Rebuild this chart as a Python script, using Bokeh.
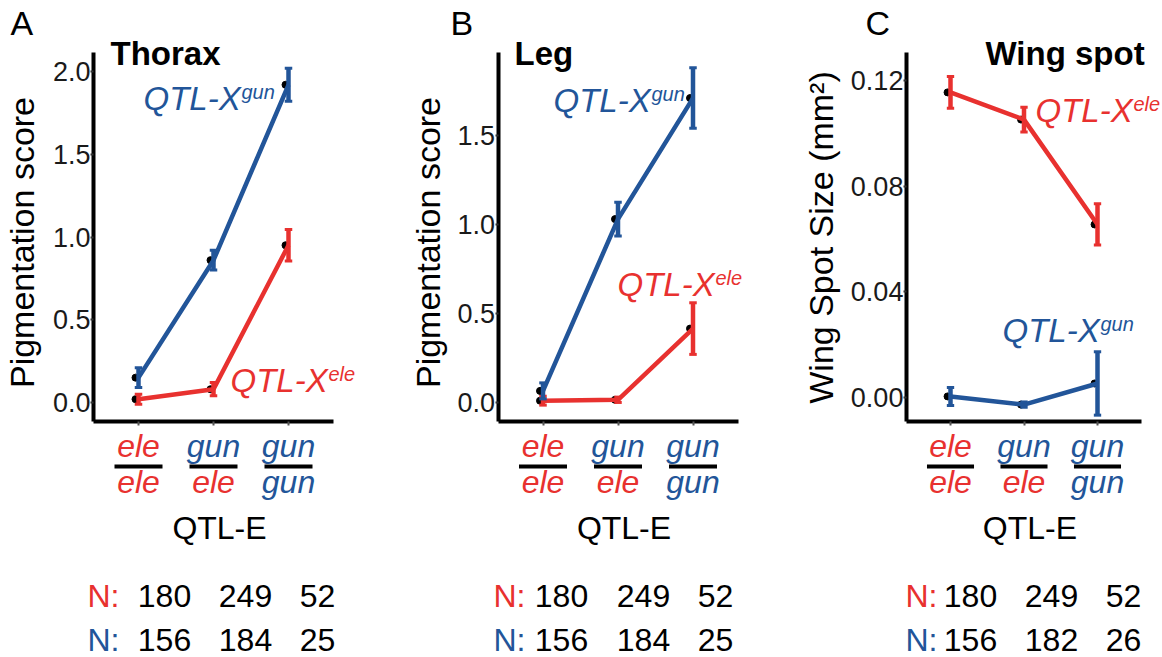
import numpy as np
from bokeh.plotting import figure
from bokeh.layouts import row
from bokeh.models import Range1d, LinearAxis, FixedTicker, NumeralTickFormatter
from bokeh.core.properties import value
from bokeh.transform import dodge
from bokeh.embed import file_html
from bokeh.resources import INLINE

RED = "#E8312F"
BLUE = "#225599"
FONT = "Liberation Sans"

# ---------------- data ----------------
xpos = [1, 2, 3]
genotype_top = ["ele", "gun", "gun"]
genotype_bottom = ["ele", "ele", "gun"]

# Panel A : Thorax
thorax_gun_mean = [0.15, 0.86, 1.92]
thorax_gun_err = [0.06, 0.06, 0.10]
thorax_ele_mean = [0.02, 0.08, 0.95]
thorax_ele_err = [0.03, 0.04, 0.095]
thorax_n_ele = [180, 249, 52]
thorax_n_gun = [156, 184, 25]

# Panel B : Leg
leg_gun_mean = [0.065, 1.03, 1.71]
leg_gun_err = [0.045, 0.095, 0.17]
leg_ele_mean = [0.01, 0.015, 0.415]
leg_ele_err = [0.025, 0.015, 0.145]
leg_n_ele = [180, 249, 52]
leg_n_gun = [156, 184, 25]

# Panel C : Wing spot
wing_ele_mean = [0.1155, 0.1052, 0.0655]
wing_ele_err = [0.006, 0.0047, 0.0078]
wing_gun_mean = [0.0004, -0.0027, 0.0053]
wing_gun_err = [0.0034, 0.0010, 0.012]
wing_n_ele = [180, 249, 52]
wing_n_gun = [156, 182, 26]

# ---------------- layout constants (page pixels) ----------------
PAGE_TOP = 0
FIG_H = 657
PANEL_TOP = 52
PANEL_BOT = 421
K = 0.39  # baseline compensation (fraction of font size)

panels = [
    dict(letter="A", title="Thorax", x0=0, w=400, cat1=138.0, sp=75.0,
         vmin=-0.115, vmax=2.115, ticks=[0, 0.5, 1.0, 1.5, 2.0], fmt="0.0",
         ylabel="Pigmentation score", ylab_x=35, ylab_y=242,
         letter_x=10, title_x=110,
         gun=(thorax_gun_mean, thorax_gun_err), ele=(thorax_ele_mean, thorax_ele_err),
         gun_lab=(143, 111), ele_lab=(230, 393),
         n_ele=thorax_n_ele, n_gun=thorax_n_gun, n_x=87, n_cols=[164, 245, 317]),
    dict(letter="B", title="Leg", x0=400, w=390, cat1=542.5, sp=75.0,
         vmin=-0.107, vmax=1.966, ticks=[0, 0.5, 1.0, 1.5], fmt="0.0",
         ylabel="Pigmentation score", ylab_x=441, ylab_y=242,
         letter_x=450, title_x=514,
         gun=(leg_gun_mean, leg_gun_err), ele=(leg_ele_mean, leg_ele_err),
         gun_lab=(553, 113), ele_lab=(617, 297),
         n_ele=leg_n_ele, n_gun=leg_n_gun, n_x=493, n_cols=[561, 643, 715]),
    dict(letter="C", title="Wing spot", x0=790, w=372, cat1=950.0, sp=73.5,
         vmin=-0.0091, vmax=0.1306, ticks=[0, 0.04, 0.08, 0.12], fmt="0.00",
         ylabel="Wing Spot Size (mm²)", ylab_x=834, ylab_y=237,
         letter_x=865, title_x=985,
         gun=(wing_gun_mean, wing_gun_err), ele=(wing_ele_mean, wing_ele_err),
         gun_lab=(1002, 343), ele_lab=(1035, 123),
         n_ele=wing_n_ele, n_gun=wing_n_gun, n_x=905, n_cols=[970, 1051, 1123]),
]


def make_panel(c):
    x0, w = c["x0"], c["w"]
    sp, cat1 = c["sp"], c["cat1"]
    xs = Range1d(1 - (cat1 - x0) / sp, 1 + (x0 + w - cat1) / sp)
    s = (PANEL_BOT - PANEL_TOP) / (c["vmax"] - c["vmin"])
    ys = Range1d(c["vmin"] - (PAGE_TOP + FIG_H - PANEL_BOT) / s,
                 c["vmax"] + (PANEL_TOP - PAGE_TOP) / s)
    p = figure(width=w, height=FIG_H, x_range=xs, y_range=ys,
               x_axis_type=None, y_axis_type=None,
               toolbar_location=None, output_backend="svg",
               min_border=0, outline_line_color=None,
               background_fill_color="white", border_fill_color="white")
    p.extra_x_ranges = {"px": Range1d(x0, x0 + w)}
    p.extra_y_ranges = {"px": Range1d(PAGE_TOP + FIG_H, PAGE_TOP)}
    p.xgrid.visible = False
    p.ygrid.visible = False

    # axes
    yax = LinearAxis(fixed_location=0.4, bounds=(c["vmin"], c["vmax"]),
                     ticker=FixedTicker(ticks=c["ticks"], minor_ticks=[]),
                     formatter=NumeralTickFormatter(format=c["fmt"]),
                     axis_line_width=4, axis_line_color="black",
                     major_tick_out=3, major_tick_in=0, minor_tick_out=0, minor_tick_in=0,
                     major_tick_line_width=2, major_tick_line_color="#333333",
                     major_label_standoff=0,
                     major_label_text_font=FONT, major_label_text_font_size="27px",
                     major_label_text_color="#1a1a1a")
    p.add_layout(yax, "left")
    xax = LinearAxis(fixed_location=c["vmin"], bounds=(0.4, 3.6),
                     ticker=FixedTicker(ticks=xpos, minor_ticks=[]),
                     major_label_overrides={1: "", 2: "", 3: ""},
                     axis_line_width=4, axis_line_color="black",
                     major_tick_out=4, major_tick_in=0, minor_tick_out=0, minor_tick_in=0,
                     major_tick_line_width=2, major_tick_line_color="#555555",
                     major_label_text_font_size="1px")
    p.add_layout(xax, "below")

    # data
    for (mean, err), col in ((c["ele"], RED), (c["gun"], BLUE)):
        mean = np.array(mean)
        err = np.array(err)
        lo, hi = mean - err, mean + err
        xa = np.array(xpos, dtype=float)
        p.scatter(x=dodge("x", -0.04), y="y", source=dict(x=xa, y=mean),
                  size=7, color="black")
        p.line(xa, mean, line_color=col, line_width=4.5)
        p.segment(x0=xa, y0=lo, x1=xa, y1=hi, line_color=col, line_width=4.5)
        p.segment(x0=xa - 0.05, y0=lo, x1=xa + 0.05, y1=lo, line_color=col, line_width=3)
        p.segment(x0=xa - 0.05, y0=hi, x1=xa + 0.05, y1=hi, line_color=col, line_width=3)

    # texts in page-pixel coordinates (y = wanted baseline)
    def ptext(x, y, t, size, color="black", style="normal", align="left", angle=0.0,
              xr="px"):
        fs = float(size.replace("px", ""))
        kw = dict(y_range_name="px")
        if xr == "px":
            kw["x_range_name"] = "px"
        if angle == 0.0:
            y = y - K * fs
        else:
            x = x - K * fs
        p.text(x=[x], y=[y], text=[t], text_font=value(FONT), text_font_size=size,
               text_color=color, text_font_style=style, text_align=align,
               text_baseline="alphabetic", angle=angle, **kw)

    ptext(c["letter_x"], 36, c["letter"], "34px")
    ptext(c["title_x"], 66, c["title"], "33px", style="bold")
    ptext(c["ylab_x"], c["ylab_y"], c["ylabel"], "34px", align="center", angle=np.pi / 2)

    for (lx, ly), col, sup in ((c["gun_lab"], BLUE, "gun"), (c["ele_lab"], RED, "ele")):
        ptext(lx, ly, "QTL-X", "33px", color=col, style="italic")
        ptext(lx + 98, ly - 12, sup, "20px", color=col, style="italic")

    # genotype category labels
    top_cols = [RED if g == "ele" else BLUE for g in genotype_top]
    bot_cols = [RED if g == "ele" else BLUE for g in genotype_bottom]
    for i, xv in enumerate(xpos):
        ptext(xv, 458, genotype_top[i], "32px", color=top_cols[i], style="italic",
              align="center", xr="data")
        ptext(xv, 494, genotype_bottom[i], "32px", color=bot_cols[i], style="italic",
              align="center", xr="data")
    p.segment(x0=[x - 0.32 for x in xpos], x1=[x + 0.32 for x in xpos],
              y0=[466] * 3, y1=[466] * 3, y_range_name="px",
              line_color="black", line_width=4)

    ptext(2.08, 540, "QTL-E", "32px", align="center", xr="data")

    # N counts
    ptext(c["n_x"], 608, "N:", "32px", color=RED)
    ptext(c["n_x"], 652, "N:", "32px", color=BLUE)
    for xc, n1, n2 in zip(c["n_cols"], c["n_ele"], c["n_gun"]):
        ptext(xc, 608, str(n1), "32px", align="center")
        ptext(xc, 652, str(n2), "32px", align="center")
    return p


figs = [make_panel(c) for c in panels]
layout = row(*figs, spacing=0)
open("out.html", "w").write(file_html(layout, INLINE))
